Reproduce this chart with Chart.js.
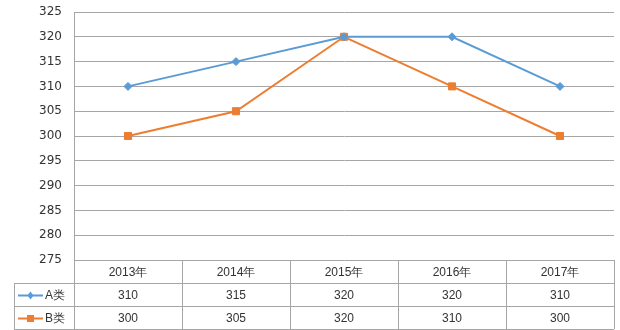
<!DOCTYPE html>
<html>
<head>
<meta charset="utf-8">
<script src="https://cdn.jsdelivr.net/npm/chart.js@4"></script>
<style>
  html, body { margin: 0; padding: 0; background: #fff; }
  #wrap { width: 620px; height: 330px; }
</style>
</head>
<body>
<div id="wrap"><canvas id="c" width="620" height="330"></canvas></div>
<script>
// Categories and series
const years = ['2013年', '2014年', '2015年', '2016年', '2017年'];
const seriesA = [310, 315, 320, 320, 310];
const seriesB = [300, 305, 320, 310, 300];
const seriesNames = ['A类', 'B类'];
const yTicks = [275, 280, 285, 290, 295, 300, 305, 310, 315, 320, 325];

const BLUE = '#5B9BD5';
const ORANGE = '#ED7D31';
const GRID = '#A6A6A6';
const TEXT = '#333333';

// Data table drawn under the plot, aligned to the category scale
const dataTable = {
  id: 'dataTable',
  afterDraw(chart) {
    const ctx = chart.ctx;
    const area = chart.chartArea;
    const xs = chart.scales.x;
    const n = years.length;
    const colW = (area.right - area.left) / n;
    const rowH = 23;
    const top = area.bottom;
    const legendLeft = 14;
    const rows = [
      { name: seriesNames[0], values: seriesA, color: BLUE, style: 'diamond' },
      { name: seriesNames[1], values: seriesB, color: ORANGE, style: 'square' }
    ];

    ctx.save();
    ctx.strokeStyle = GRID;
    ctx.lineWidth = 1;

    const hline = (x1, x2, y) => {
      ctx.beginPath();
      ctx.moveTo(x1, Math.round(y) + 0.5);
      ctx.lineTo(x2, Math.round(y) + 0.5);
      ctx.stroke();
    };
    const vline = (x, y1, y2) => {
      ctx.beginPath();
      ctx.moveTo(Math.round(x) + 0.5, y1);
      ctx.lineTo(Math.round(x) + 0.5, y2);
      ctx.stroke();
    };
    // horizontal rules
    hline(legendLeft, area.right, top + rowH);
    hline(legendLeft, area.right, top + rowH * 2);
    hline(legendLeft, area.right, top + rowH * 3);

    // vertical rules
    vline(legendLeft, top + rowH, top + rowH * 3);
    for (let i = 0; i <= n; i++) {
      vline(area.left + colW * i, top, top + rowH * 3);
    }

    ctx.fillStyle = TEXT;
    ctx.font = '12px "Liberation Sans", Arial, sans-serif';
    ctx.textAlign = 'center';
    ctx.textBaseline = 'middle';

    // header row
    years.forEach((y, i) => {
      ctx.fillText(y, xs.getPixelForValue(i), top + rowH / 2 + 1);
    });

    // series rows with legend keys
    rows.forEach((r, ri) => {
      const cy = top + rowH * (ri + 1) + rowH / 2 + 1;
      r.values.forEach((v, i) => {
        ctx.fillText(String(v), xs.getPixelForValue(i), cy);
      });
      ctx.strokeStyle = r.color;
      ctx.lineWidth = 2;
      ctx.beginPath();
      ctx.moveTo(18, cy);
      ctx.lineTo(43, cy);
      ctx.stroke();
      ctx.fillStyle = r.color;
      ctx.beginPath();
      if (r.style === 'square') {
        ctx.rect(27, cy - 3.5, 7, 7);
      } else {
        ctx.moveTo(30.5, cy - 4); ctx.lineTo(33.5, cy); ctx.lineTo(30.5, cy + 4); ctx.lineTo(27.5, cy);
        ctx.closePath();
      }
      ctx.fill();
      ctx.fillStyle = TEXT;
      ctx.textAlign = 'left';
      ctx.fillText(r.name, 45, cy);
      ctx.textAlign = 'center';
      ctx.strokeStyle = GRID;
      ctx.lineWidth = 1;
    });
    ctx.restore();
  }
};

new Chart(document.getElementById('c'), {
  type: 'line',
  data: {
    labels: years,
    datasets: [
      {
        label: seriesNames[0],
        data: seriesA,
        borderColor: BLUE,
        backgroundColor: BLUE,
        borderWidth: 2,
        pointStyle: 'rectRot',
        pointRadius: 4,
        pointBorderWidth: 1,
        tension: 0
      },
      {
        label: seriesNames[1],
        data: seriesB,
        borderColor: ORANGE,
        backgroundColor: ORANGE,
        borderWidth: 2,
        pointStyle: 'rect',
        pointRadius: 5,
        pointBorderWidth: 1,
        tension: 0
      }
    ]
  },
  options: {
    responsive: false,
    animation: false,
    events: [],
    layout: { padding: { top: 12, right: 6, bottom: 70, left: 0 } },
    plugins: {
      legend: { display: false },
      tooltip: { enabled: false }
    },
    scales: {
      x: {
        type: 'category',
        display: false,
        offset: true
      },
      y: {
        min: 275,
        max: 325,
        afterBuildTicks(scale) {
          scale.ticks = yTicks.map(v => ({ value: v }));
        },
        afterFit(scale) {
          scale.width = 74;
          scale.paddingTop = 0;
          scale.paddingBottom = 0;
        },
        grid: { color: GRID, drawTicks: false, lineWidth: 1 },
        border: { color: GRID, width: 1 },
        ticks: {
          color: TEXT,
          padding: 12,
          font: { family: '"DejaVu Sans", sans-serif', size: 12 }
        }
      }
    }
  },
  plugins: [dataTable]
});
</script>
</body>
</html>
